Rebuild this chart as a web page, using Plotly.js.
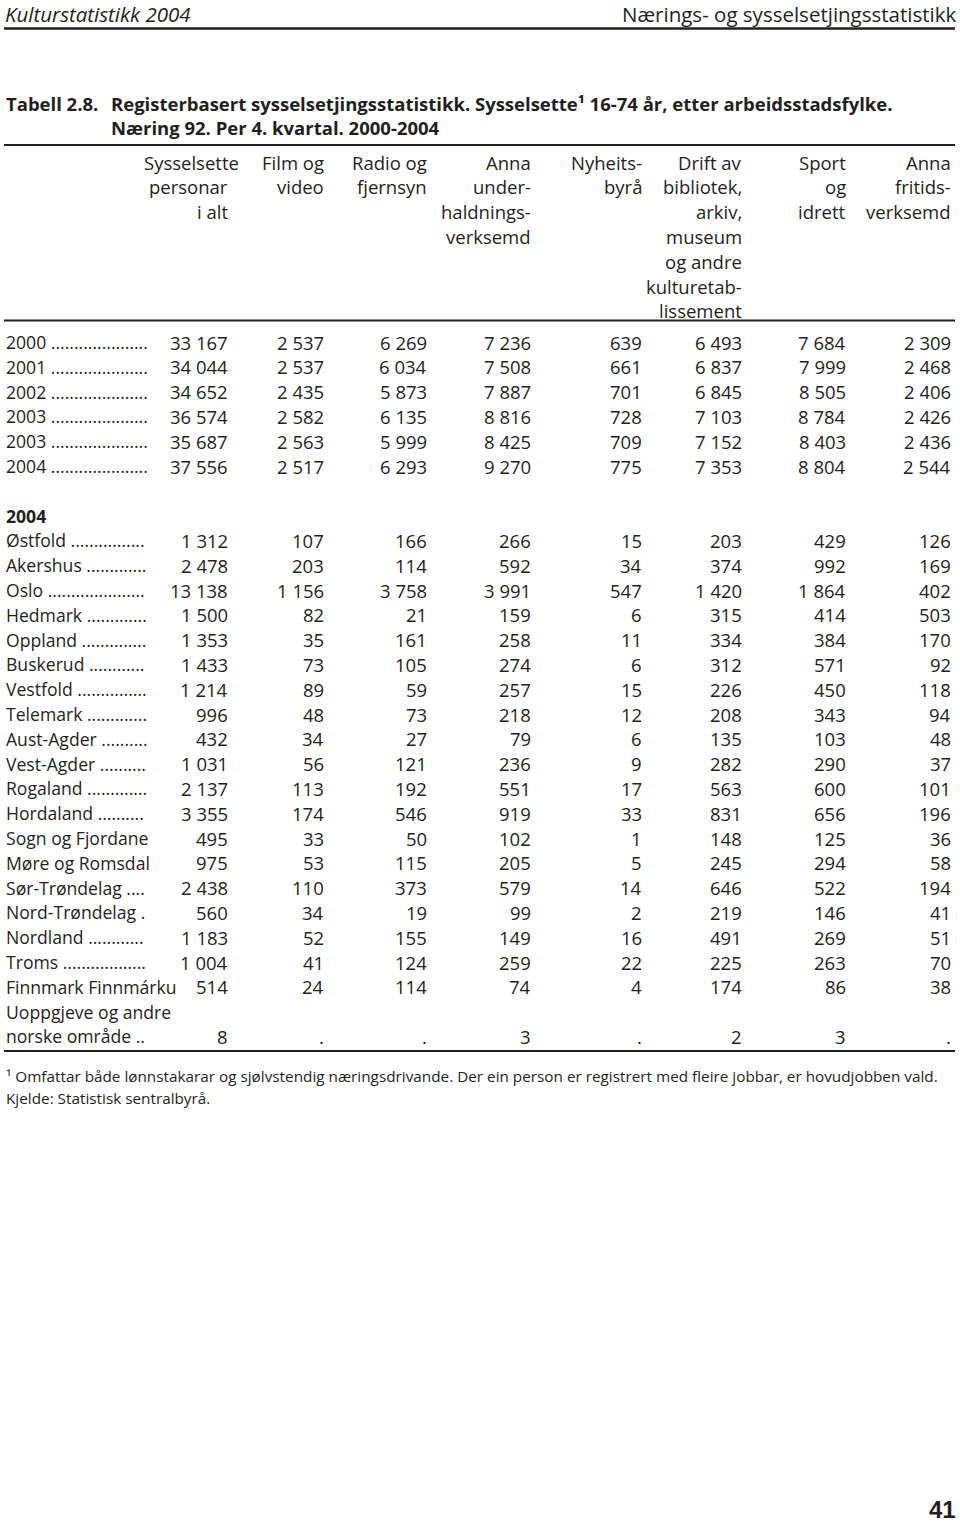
<!DOCTYPE html>
<html>
<head>
<meta charset="utf-8">
<script src="https://cdn.plot.ly/plotly-3.0.1.min.js"></script>
<style>
  body { margin: 0; background: #fff; }
  #chart { width: 960px; height: 1526px; }
</style>
</head>
<body>
<div id="chart"></div>
<script>
// Column headings, one list of lines per column
const headers = [
    ['Sysselsette', 'personar', 'i alt'],
    ['Film og', 'video'],
    ['Radio og', 'fjernsyn'],
    ['Anna', 'under-', 'haldnings-', 'verksemd'],
    ['Nyheits-', 'byrå'],
    ['Drift av', 'bibliotek,', 'arkiv,', 'museum', 'og andre', 'kulturetab-', 'lissement'],
    ['Sport', 'og', 'idrett'],
    ['Anna', 'fritids-', 'verksemd']
];

// Whole country by year
const years = ['2000', '2001', '2002', '2003', '2003', '2004'];
const yearValues = [
    [33167, 2537, 6269, 7236, 639, 6493, 7684, 2309],
    [34044, 2537, 6034, 7508, 661, 6837, 7999, 2468],
    [34652, 2435, 5873, 7887, 701, 6845, 8505, 2406],
    [36574, 2582, 6135, 8816, 728, 7103, 8784, 2426],
    [35687, 2563, 5999, 8425, 709, 7152, 8403, 2436],
    [37556, 2517, 6293, 9270, 775, 7353, 8804, 2544]
];

// By county, 2004
const countyYear = '2004';
const counties = ['Østfold', 'Akershus', 'Oslo', 'Hedmark', 'Oppland', 'Buskerud', 'Vestfold',
    'Telemark', 'Aust-Agder', 'Vest-Agder', 'Rogaland', 'Hordaland', 'Sogn og Fjordane',
    'Møre og Romsdal', 'Sør-Trøndelag', 'Nord-Trøndelag', 'Nordland', 'Troms', 'Finnmark Finnmárku'];
const countyValues = [
    [1312, 107, 166, 266, 15, 203, 429, 126],
    [2478, 203, 114, 592, 34, 374, 992, 169],
    [13138, 1156, 3758, 3991, 547, 1420, 1864, 402],
    [1500, 82, 21, 159, 6, 315, 414, 503],
    [1353, 35, 161, 258, 11, 334, 384, 170],
    [1433, 73, 105, 274, 6, 312, 571, 92],
    [1214, 89, 59, 257, 15, 226, 450, 118],
    [996, 48, 73, 218, 12, 208, 343, 94],
    [432, 34, 27, 79, 6, 135, 103, 48],
    [1031, 56, 121, 236, 9, 282, 290, 37],
    [2137, 113, 192, 551, 17, 563, 600, 101],
    [3355, 174, 546, 919, 33, 831, 656, 196],
    [495, 33, 50, 102, 1, 148, 125, 36],
    [975, 53, 115, 205, 5, 245, 294, 58],
    [2438, 110, 373, 579, 14, 646, 522, 194],
    [560, 34, 19, 99, 2, 219, 146, 41],
    [1183, 52, 155, 149, 16, 491, 269, 51],
    [1004, 41, 124, 259, 22, 225, 263, 70],
    [514, 24, 114, 74, 4, 174, 86, 38]
];
const otherLabel = ['Uoppgjeve og andre', 'norske område'];
const otherValues = [8, null, null, 3, null, 2, 3, null]; // null = "."

// Page texts
const runningLeft = 'Kulturstatistikk 2004';
const runningRight = 'Nærings- og sysselsetjingsstatistikk';
const tableNo = 'Tabell 2.8.';
const titleLines = ['Registerbasert sysselsetjingsstatistikk. Sysselsette¹ 16-74 år, etter arbeidsstadsfylke.',
    'Næring 92. Per 4. kvartal. 2000-2004'];
const footnotes = ['¹ Omfattar både lønnstakarar og sjølvstendig næringsdrivande. Der ein person er registrert med fleire jobbar, er hovudjobben vald.',
    'Kjelde: Statistisk sentralbyrå.'];
const pageNo = '41';

// Layout (pixels on the page)
const TEXT = '#231f20';
const FONT = '"Open Sans", "Noto Sans", sans-serif';
const SIZE = 18.5;       // numbers and headings
const LABEL_SIZE = 17.6; // row labels
const colRight = [229, 325, 428, 532, 643, 743, 847, 952];
const headShift = [11, 0, 0, 0, 0, 0, 0, 0];
const headTop = 162, dataTop = 342, rowStep = 24.8;
const labelX = 5, leaderEnd = 147;
const rules = [{ y: 28.5, w: 2.5 }, { y: 145, w: 2 }, { y: 320.5, w: 2 }, { y: 1051, w: 2 }];

function fmt(v) {
    if (v === null) return '.';
    return String(v).replace(/\B(?=(\d{3})+(?!\d))/g, ' ');
}

const ctx = document.createElement('canvas').getContext('2d');
ctx.font = LABEL_SIZE + 'px "Open Sans"';
// add dot leaders up to the first column, if there is room
function leader(name) {
    let s = name + ' ';
    if (ctx.measureText(s + '.').width > leaderEnd - labelX) return name;
    while (ctx.measureText(s + '.').width <= leaderEnd - labelX) s += '.';
    return s;
}

const ann = [];
function put(x, y, text, anchor, opts) {
    opts = opts || {};
    ann.push({
        xref: 'x', yref: 'y', x: x, y: y, text: text, showarrow: false,
        xanchor: anchor, yanchor: 'middle', borderpad: 0,
        font: { family: opts.family || FONT, size: opts.size || SIZE, color: TEXT, weight: opts.weight || 400, style: opts.style || 'normal' }
    });
}
const rowY = i => dataTop + rowStep * i;
const lab = { size: LABEL_SIZE };

// running head
put(4, 14, runningLeft, 'left', { size: 20.5, style: 'italic' });
put(957, 14, runningRight, 'right', { size: 20.5 });

// title
put(labelX, 103, tableNo, 'left', { weight: 700 });
titleLines.forEach((t, i) => put(110, 103 + 24.5 * i, t, 'left', { weight: 700 }));

// column headings
headers.forEach((lines, c) => {
    lines.forEach((t, k) => put(colRight[c] + (k === 0 ? headShift[c] : 0), headTop + rowStep * k, t, 'right'));
});

// yearly rows
years.forEach((y, r) => {
    put(labelX, rowY(r), leader(y), 'left', lab);
    yearValues[r].forEach((v, c) => put(colRight[c], rowY(r), fmt(v), 'right'));
});

// county rows
put(labelX, rowY(7), countyYear, 'left', { size: LABEL_SIZE, weight: 700 });
counties.forEach((name, j) => {
    const r = 8 + j;
    put(labelX, rowY(r), leader(name), 'left', lab);
    countyValues[j].forEach((v, c) => put(colRight[c], rowY(r), fmt(v), 'right'));
});
const rOther = 8 + counties.length;
put(labelX, rowY(rOther), otherLabel[0], 'left', lab);
put(labelX, rowY(rOther + 1), leader(otherLabel[1]), 'left', lab);
otherValues.forEach((v, c) => put(colRight[c], rowY(rOther + 1), fmt(v), 'right'));

// footnotes and page number
footnotes.forEach((t, i) => put(labelX, 1076 + 21.5 * i, t, 'left', { size: 15.3 }));
put(957, 1509, pageNo, 'right', { size: 24, weight: 700, family: '"Liberation Sans", Arial, sans-serif' });

const shapes = rules.map(r => ({
    type: 'line', xref: 'x', yref: 'y', x0: 4, x1: 955, y0: r.y, y1: r.y,
    line: { color: TEXT, width: r.w }
}));

const layout = {
    width: 960, height: 1526,
    margin: { l: 0, r: 0, t: 0, b: 0 },
    paper_bgcolor: '#fff', plot_bgcolor: '#fff',
    showlegend: false,
    xaxis: { range: [0, 960], visible: false, fixedrange: true },
    yaxis: { range: [1526, 0], visible: false, fixedrange: true },
    annotations: ann,
    shapes: shapes
};

Plotly.newPlot('chart', [{ type: 'scatter', x: [], y: [], hoverinfo: 'skip' }], layout, { staticPlot: true });
</script>
</body>
</html>
